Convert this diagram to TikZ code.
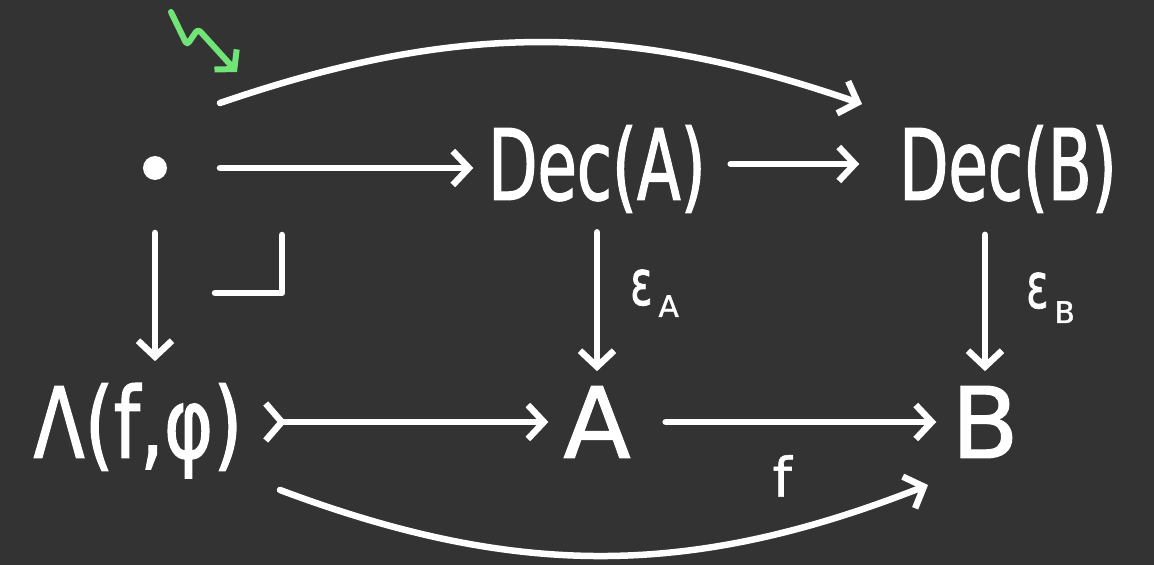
\documentclass[tikz,border=0pt]{standalone}
\usepackage{fontspec}
\usepackage{tikz}
\usetikzlibrary{arrows.meta, positioning}
\newfontfamily\hand[FakeStretch=0.65, FakeBold=1.2]{DejaVu Sans}
\newfontfamily\handlam[FakeStretch=0.76, FakeBold=1.2]{DejaVu Sans}
\newfontfamily\handwide[FakeBold=1.2]{DejaVu Sans}
\definecolor{bgdark}{RGB}{51, 51, 51}
\definecolor{zaggreen}{RGB}{112, 228, 118}

\begin{document}
\begin{tikzpicture}[
    x=0.02cm, y=0.02cm, color=white, line width=0.13cm,
    obj/.style={font=\hand\fontsize{56}{56}\selectfont, inner sep=0pt,
                outer sep=0.3cm, text height=40.8pt, text depth=0pt},
    letter/.style={obj, font=\handwide\fontsize{56}{56}\selectfont},
    lbl/.style={font=\hand\fontsize{36}{36}\selectfont, inner sep=0pt},
    arr/.style={-{Straight Barb[length=0.32cm, width=0.68cm]}, line cap=round, line join=round},
    mono/.style={{Straight Barb[reversed, length=0.32cm, width=0.74cm]}-{Straight Barb[length=0.32cm, width=0.68cm]},
                 line cap=round, line join=round},
    zag/.style={zaggreen, line width=0.12cm, rounded corners=2pt, line cap=round, line join=round,
                -{Straight Barb[length=0.26cm, width=0.6cm]}}
]
    \useasboundingbox (0,0) rectangle (1154,565);
    \fill[bgdark] (0,0) rectangle (1154,565);

    \node[circle, fill=white, minimum size=0.48cm, inner sep=0pt, outer sep=1.06cm] (pt) at (155,397) {};
    \node[obj] (decA) at (597,401) {Dec(A)};
    \node[obj] (decB) at (1008,401) {Dec(B)};
    \node[obj, font=\handlam\fontsize{56}{56}\selectfont] (lam) at (138,143) {Λ(f,φ)};
    \node[letter] (A) at (597,143) {A};
    \node[letter] (B) at (985,143) {B};

    % labels
    \node[lbl, anchor=base west] (epsA) at (627,260) {ε\hspace{0.12cm}\raisebox{-0.24cm}{\handwide\fontsize{17}{17}\selectfont A}};
    \node[lbl, anchor=base west] (epsB) at (1023,257) {ε\hspace{0.12cm}\raisebox{-0.3cm}{\handwide\fontsize{17}{17}\selectfont B}};

    \draw[arr] (pt) -- (pt -| decA.west);
    \draw[arr, shorten <=0.2cm, shorten >=0.5cm] (decA) -- (decB);
    \draw[arr, shorten >=0.2cm] (pt) -- (pt |- lam.north);
    \draw[arr, shorten <=0.35cm] (decA) -- (A);
    \draw[arr, shorten <=0.4cm] (B |- decB.south) -- (B);
    \draw[mono, shorten <=0.1cm] (lam) -- (A);
    \draw[arr, shorten <=0.4cm] (A) -- (B) node[pos=0.47, below=0.6cm, font=\handwide\fontsize{31}{31}\selectfont, inner sep=0pt] (flbl) {f};
    \draw[arr] ([shift={(65,65)}]pt.center) to[bend left=19] ([shift={(-146,60)}]decB.center);
    \draw[arr] ([shift={(142,-68)}]lam.center) to[bend right=21] ([shift={(-57,-63)}]B.center);

    % pullback corner
    \draw[line cap=round, line join=round] ([shift={(60,-125)}]pt.center) -- ++(67,0) -- ++(0,58);

    \draw[zag] (171,553) -- (187,520) -- (198,536) -- (237,493);
\end{tikzpicture}
\end{document}
